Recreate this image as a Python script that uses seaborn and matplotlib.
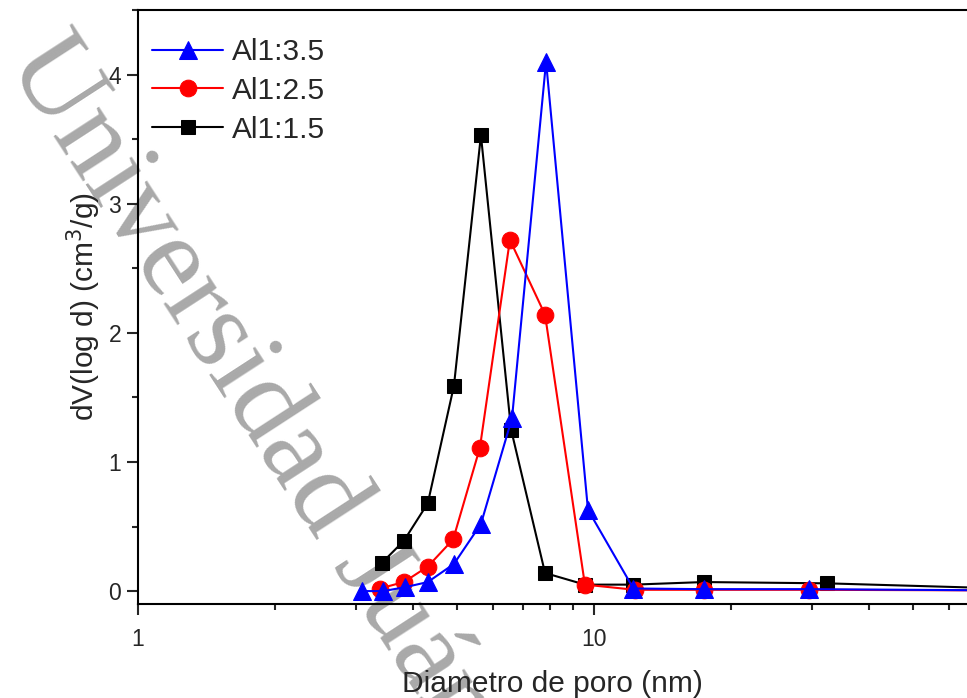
import matplotlib
matplotlib.use("Agg")
import matplotlib.pyplot as plt
import seaborn as sns
import numpy as np
from matplotlib.ticker import LogLocator, MultipleLocator, FixedLocator, NullFormatter

# ---- data ----
x_a35 = [3.10, 3.45, 3.85, 4.32, 4.93, 5.65, 6.61, 7.85, 9.70, 12.2, 17.4, 29.6, 80.0]
y_a35 = [0.00, 0.00, 0.03, 0.07, 0.21, 0.52, 1.34, 4.10, 0.63, 0.02, 0.015, 0.015, 0.005]

x_a25 = [3.39, 3.83, 4.32, 4.91, 5.62, 6.54, 7.81, 9.55, 12.3, 17.4, 29.6, 80.0]
y_a25 = [0.02, 0.07, 0.19, 0.40, 1.11, 2.72, 2.14, 0.05, 0.01, 0.01, 0.01, 0.005]

x_a15 = [3.43, 3.83, 4.32, 4.93, 5.65, 6.58, 7.81, 9.55, 12.2, 17.4, 32.4, 80.0]
y_a15 = [0.22, 0.39, 0.68, 1.59, 3.53, 1.25, 0.14, 0.05, 0.05, 0.07, 0.06, 0.02]

labels = ["Al1:3.5", "Al1:2.5", "Al1:1.5"]
x_ticks = [1, 10]
x_ticklabels = ["1", "10"]
y_ticks = [0, 1, 2, 3, 4]

sns.set_style("ticks")
plt.rcParams['font.family'] = ['Liberation Sans', 'DejaVu Sans']

fig = plt.figure(figsize=(9.67, 6.98), dpi=100)
ax = fig.add_axes([138/967, 1 - 604/698, 1 - 138/967, (604 - 10)/698])
ax.set_facecolor("none")

# watermark
fig.text(6/967, 1 - 62/698, "Universidad Juárez",
         family=['Liberation Serif', 'DejaVu Serif'], fontsize=84, color="#a9a9a9",
         rotation=-57, rotation_mode='anchor', ha='left', va='baseline', zorder=-5)

lw = 1.5
sns.lineplot(x=x_a15, y=y_a15, ax=ax, color="black", marker="s", markersize=9.5,
             markeredgecolor="black", linewidth=lw, label=labels[2])
sns.lineplot(x=x_a25, y=y_a25, ax=ax, color="red", marker="o", markersize=12,
             markeredgecolor="red", linewidth=lw, label=labels[1])
sns.lineplot(x=x_a35, y=y_a35, ax=ax, color="blue", marker="^", markersize=13,
             markeredgecolor="blue", linewidth=lw, label=labels[0])

ax.set_xscale("log")
ax.xaxis.set_major_locator(FixedLocator(x_ticks))
ax.set_xticks(x_ticks)
ax.set_xticklabels(x_ticklabels)
ax.xaxis.set_minor_locator(LogLocator(base=10, subs=np.arange(2, 10)))
ax.xaxis.set_minor_formatter(NullFormatter())
ax.set_yticks(y_ticks)
ax.yaxis.set_minor_locator(MultipleLocator(0.5))
ax.set_xlim(1, 10 ** ((967 - 138) / 456))
ax.set_ylim(-0.1, 4.5)

ax.tick_params(which='major', direction='out', length=8, width=1.5, labelsize=16.5)
ax.tick_params(axis='x', which='major', pad=9)
ax.tick_params(axis='y', which='major', pad=4)
ax.tick_params(which='minor', direction='out', length=4.5, width=1.5)

for s in ["left", "bottom", "top"]:
    ax.spines[s].set_linewidth(1.5)
    ax.spines[s].set_color("black")
ax.spines["right"].set_visible(False)

ax.set_xlabel("Diametro de poro (nm)", fontsize=21.5, labelpad=14)
ax.set_ylabel("dV(log d) (cm$^3$/g)", fontsize=21.5, labelpad=4)

handles, labs = ax.get_legend_handles_labels()
order = [labs.index(l) for l in labels]
ax.legend([handles[i] for i in order], [labs[i] for i in order], loc='upper left',
          bbox_to_anchor=(-0.005, 0.983), frameon=False, fontsize=21.5, handlelength=2.4,
          handletextpad=0.3, labelspacing=0.36, borderaxespad=0.3, borderpad=0.3)

fig.savefig("out.png", dpi=100)
